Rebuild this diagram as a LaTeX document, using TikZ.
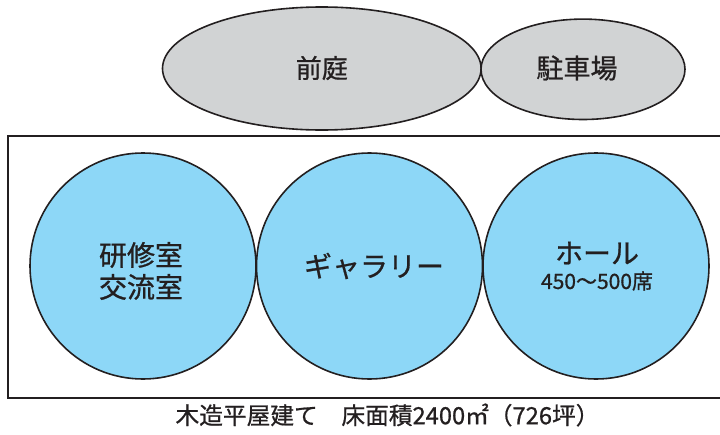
\documentclass[tikz,border=0pt]{standalone}
\usepackage{fontspec}
\setmainfont{Noto Sans CJK JP}
\newfontfamily\jp[FakeBold=0.8]{Noto Sans CJK JP}
\definecolor{txt}{HTML}{231F20}
\definecolor{grayfill}{HTML}{D1D3D4}
\definecolor{bluefill}{HTML}{8DD7F7}
\begin{document}
\begin{tikzpicture}[x=1pt,y=-1pt,
  outline/.style={draw=txt,line width=1.6pt},
  yard/.style={outline,fill=grayfill},
  room/.style={outline,fill=bluefill},
  lbl/.style={text=txt,font=\jp\fontsize{28}{32}\selectfont,align=center,inner sep=0pt}]
\useasboundingbox (0,0) rectangle (720,434);
\draw[draw=txt,line width=2pt] (7.5,135.5) rectangle (730,397.5);
\path[yard] (321.8,68.5) ellipse [x radius=159.3, y radius=61.5];
\path[yard] (583,69.3) ellipse [x radius=102, y radius=50.2];
\node[lbl,font=\jp\fontsize{26}{30}\selectfont] (zentei) at (321.8,68) {前庭};
\node[lbl,font=\jp\fontsize{27}{30}\selectfont] (chusha) at (577,68) {駐車場};
\path[room] (143,266) circle [radius=113];
\path[room] (369.5,266) circle [radius=113];
\path[room] (596,266) circle [radius=113];
\node[lbl] (kenshu) at (141,271) {研修室\\交流室};
\node[lbl] (gallery) at (374,266) {ギャラリー};
\node[lbl] (hall) at (597,253) {ホール};
\node[lbl,font=\jp\fontsize{21}{25}\selectfont] (seats) at (597,281) {450～500席};
\node[lbl,font=\jp\fontsize{23.7}{27}\selectfont] (caption) at (387.5,415) {木造平屋建て\hspace{1em}床面積2400㎡（726坪）};
\end{tikzpicture}
\end{document}
